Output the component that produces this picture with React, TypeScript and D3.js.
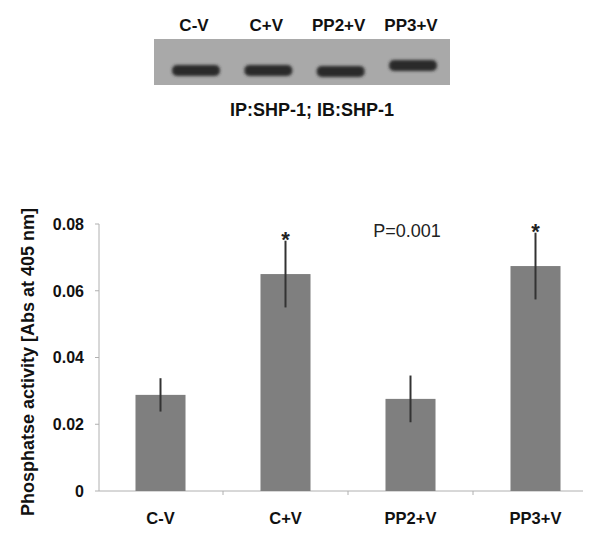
import React from 'react';
import * as d3 from 'd3';

// bar chart data
const groups = ['C-V', 'C+V', 'PP2+V', 'PP3+V'];
const activity = [0.0288, 0.065, 0.0276, 0.0674];
const errors = [0.005, 0.01, 0.007, 0.01];
const significant = [false, true, false, true];
const yTicks = [0, 0.02, 0.04, 0.06, 0.08];

// blot lanes: vertical offset of each band (px)
const laneLabels = ['C-V', 'C+V', 'PP2+V', 'PP3+V'];
const bandShift = [0, 0, 1, -5];

const W = 600;
const H = 536;

const App = () => {
  const x = d3.scaleBand().domain(groups).range([98, 598]).paddingInner(0.6).paddingOuter(0.3);
  const y = d3.scaleLinear().domain([0, 0.08]).range([491, 224]);
  const lane = d3.scalePoint().domain(laneLabels).range([194, 411]);

  const blot = { x0: 154, x1: 450, y0: 39, y1: 85 };

  return (
    <svg width={W} height={H} style={{ position: 'absolute', left: 0, top: 0, background: '#fff' }}
      fontFamily="Liberation Sans, Arial, sans-serif">
      <defs>
        <filter id="soft" x="-20%" y="-50%" width="140%" height="200%">
          <feGaussianBlur stdDeviation="1.6" />
        </filter>
        <filter id="edge">
          <feGaussianBlur stdDeviation="0.6" />
        </filter>
      </defs>

      {/* western blot */}
      {laneLabels.map(l => (
        <text key={l} x={lane(l)} y={31} textAnchor="middle" fontSize={17} fontWeight="bold" fill="#111">{l}</text>
      ))}
      <rect x={blot.x0} y={blot.y0} width={blot.x1 - blot.x0} height={blot.y1 - blot.y0} fill="#a9a9a9" />
      {laneLabels.map((l, i) => (
        <rect key={l} x={(lane(l) as number) - 22} y={65 + bandShift[i]} width={48} height={11} rx={5}
          fill="#2a2a2a" filter="url(#soft)" />
      ))}
      <text x={312} y={116} textAnchor="middle" fontSize={18} fontWeight="bold" fill="#111">IP:SHP-1; IB:SHP-1</text>

      {/* axes */}
      <line x1={99} x2={99} y1={y(0.08)} y2={y(0)} stroke="#b0b0b0" />
      <line x1={99} x2={583} y1={y(0)} y2={y(0)} stroke="#b0b0b0" />
      {yTicks.map(t => (
        <g key={t}>
          <line x1={95} x2={99} y1={y(t)} y2={y(t)} stroke="#b0b0b0" />
          <text x={84} y={y(t)} dy="0.36em" textAnchor="end" fontSize={16} fontWeight="bold" fill="#111">
            {t === 0 ? '0' : d3.format('.2f')(t)}
          </text>
        </g>
      ))}
      {groups.slice(1).map(g => (
        <line key={g} x1={(x(g) as number) - x.step() * x.paddingInner() / 2}
          x2={(x(g) as number) - x.step() * x.paddingInner() / 2}
          y1={y(0)} y2={y(0) + 4} stroke="#b0b0b0" />
      ))}

      {/* bars */}
      {groups.map((g, i) => {
        const cx = (x(g) as number) + x.bandwidth() / 2;
        return (
          <g key={g}>
            <rect x={x(g)} y={y(activity[i])} width={x.bandwidth()} height={y(0) - y(activity[i])}
              fill="#7f7f7f" filter="url(#edge)" />
            <line x1={cx} x2={cx} y1={y(activity[i] + errors[i])} y2={y(activity[i] - errors[i])}
              stroke="#333" strokeWidth={2} />
            {significant[i] && (
              <text x={cx} y={y(activity[i] + errors[i]) + 6} textAnchor="middle" fontSize={22}
                fontWeight="bold" fill="#222">*</text>
            )}
            <text x={cx} y={524} textAnchor="middle" fontSize={16.5} fontWeight="bold" fill="#111">{g}</text>
          </g>
        );
      })}

      <text x={407} y={237} textAnchor="middle" fontSize={18} fill="#222">P=0.001</text>

      <text transform={`translate(34,362) rotate(-90)`} textAnchor="middle"
        fontSize={18} fontWeight="bold" fill="#111">Phosphatse activity [Abs at 405 nm]</text>
    </svg>
  );
};

export default App;
